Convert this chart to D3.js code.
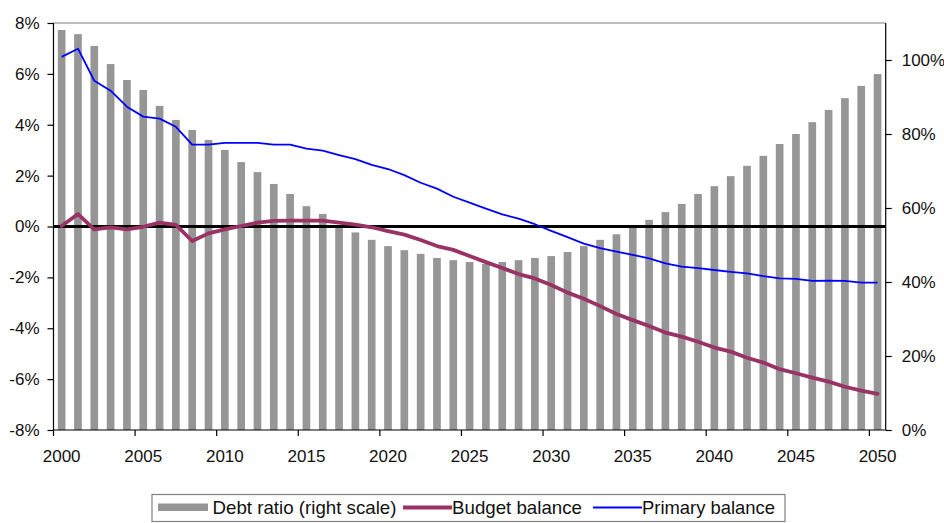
<!DOCTYPE html>
<html>
<head>
<meta charset="utf-8">
<script src="https://cdn.jsdelivr.net/npm/d3@7"></script>
<style>
  html, body { margin: 0; padding: 0; background: #fff; }
  svg { display: block; font-family: "Liberation Sans", Arial, sans-serif; }
</style>
</head>
<body>
<svg id="chart" width="944" height="523"></svg>
<script>
// Years 2000-2050
const years = d3.range(2000, 2051);

// Debt ratio, % of GDP (right scale)
const debtRatio = [
  108.1, 107.0, 103.8, 98.9, 94.6, 91.9, 87.6, 83.8, 81.1, 78.4,
  75.7, 72.4, 69.7, 66.5, 63.8, 60.5, 58.4, 54.8, 53.4, 51.4,
  49.7, 48.6, 47.6, 46.5, 45.9, 45.4, 44.9, 45.4, 45.9, 46.5,
  47.0, 48.1, 49.7, 51.4, 52.9, 54.7, 56.8, 58.9, 61.1, 63.8,
  65.9, 68.6, 71.4, 74.1, 77.3, 80.0, 83.2, 86.5, 89.7, 93.0,
  96.2
];

// Budget balance, % of GDP (left scale)
const budgetBalance = [
  0.02, 0.49, -0.11, -0.03, -0.11, -0.01, 0.15, 0.06, -0.57, -0.27,
  -0.11, 0.02, 0.15, 0.22, 0.23, 0.23, 0.23, 0.15, 0.07, -0.03,
  -0.18, -0.32, -0.53, -0.77, -0.92, -1.16, -1.40, -1.63, -1.87, -2.04,
  -2.30, -2.60, -2.84, -3.13, -3.44, -3.68, -3.91, -4.17, -4.33, -4.53,
  -4.76, -4.92, -5.16, -5.35, -5.61, -5.77, -5.94, -6.10, -6.30, -6.45,
  -6.58
];

// Primary balance, % of GDP (left scale)
const primaryBalance = [
  6.67, 6.99, 5.73, 5.34, 4.71, 4.32, 4.24, 3.92, 3.22, 3.22,
  3.29, 3.29, 3.29, 3.22, 3.22, 3.06, 2.98, 2.81, 2.65, 2.42,
  2.26, 2.02, 1.72, 1.49, 1.17, 0.94, 0.70, 0.48, 0.31, 0.09,
  -0.17, -0.42, -0.67, -0.85, -0.99, -1.12, -1.25, -1.45, -1.58, -1.64,
  -1.71, -1.78, -1.84, -1.95, -2.04, -2.06, -2.14, -2.13, -2.14, -2.21,
  -2.21
];

const leftTicks = [-8, -6, -4, -2, 0, 2, 4, 6, 8];
const rightTicks = [0, 20, 40, 60, 80, 100];
const yearTicks = years.filter(y => y % 5 === 0);

const legendItems = [
  { label: "Debt ratio (right scale)", kind: "bar" },
  { label: "Budget balance", kind: "budget" },
  { label: "Primary balance", kind: "primary" }
];

const colors = { bar: "#969696", budget: "#993366", primary: "#0000ff" };

const svg = d3.select("#chart");
const plot = { left: 53.5, right: 885.7, top: 23, bottom: 430 };

const x = d3.scaleBand().domain(years).range([plot.left, plot.right]).padding(0);
const yL = d3.scaleLinear().domain([-8, 8]).range([plot.bottom, plot.top]);
const yR = d3.scaleLinear().domain([0, 110]).range([plot.bottom, plot.top]);
const bw = x.bandwidth();
const barW = bw * 0.47;

// Debt ratio bars
svg.append("g")
  .selectAll("rect")
  .data(years)
  .join("rect")
  .attr("x", (d) => x(d) + (bw - barW) / 2)
  .attr("width", barW)
  .attr("y", (d, i) => yR(debtRatio[i]))
  .attr("height", (d, i) => yR(0) - yR(debtRatio[i]))
  .attr("fill", colors.bar);

// Frame: grey top border
svg.append("line")
  .attr("x1", plot.left).attr("x2", plot.right)
  .attr("y1", plot.top).attr("y2", plot.top)
  .attr("stroke", "#808080").attr("stroke-width", 1.2);

// Left axis
const axL = svg.append("g")
  .attr("transform", `translate(${plot.left},0)`)
  .call(d3.axisLeft(yL).tickValues(leftTicks).tickFormat(d => d + "%").tickSize(6).tickPadding(8));
// Right axis
const axR = svg.append("g")
  .attr("transform", `translate(${plot.right},0)`)
  .call(d3.axisRight(yR).tickValues(rightTicks).tickFormat(d => d + "%").tickSize(6).tickPadding(10));
// Bottom axis: ticks on band boundaries, labels under band centres
const axB = svg.append("g")
  .attr("transform", `translate(0,${plot.bottom})`)
  .call(d3.axisBottom(x).tickValues(yearTicks).tickSize(6).tickPadding(14));
axB.selectAll(".tick line").attr("x1", -bw / 2).attr("x2", -bw / 2);

[axL, axR, axB].forEach(ax => {
  ax.select(".domain").attr("stroke", "#000").attr("stroke-width", 1.2);
  ax.selectAll(".tick line").attr("stroke", "#000").attr("stroke-width", 1.2);
  ax.selectAll("text").attr("font-size", 17).attr("fill", "#111")
    .attr("font-family", "'Liberation Sans', Arial, sans-serif");
});
axL.select(".domain").attr("d", `M0,${plot.top}V${plot.bottom}`);
axR.select(".domain").attr("d", `M0,${plot.top}V${plot.bottom}`);
axB.select(".domain").attr("d", `M${plot.left},0H${plot.right}`);

// Zero line
svg.append("line")
  .attr("x1", plot.left).attr("x2", plot.right)
  .attr("y1", yL(0)).attr("y2", yL(0))
  .attr("stroke", "#000").attr("stroke-width", 3);

const cx = d => x(d) + bw / 2;

// Primary balance line
svg.append("path")
  .datum(years)
  .attr("fill", "none")
  .attr("stroke", colors.primary)
  .attr("stroke-width", 1.8)
  .attr("stroke-linejoin", "round")
  .attr("d", d3.line().x(cx).y((d, i) => yL(primaryBalance[i])));

// Budget balance line
svg.append("path")
  .datum(years)
  .attr("fill", "none")
  .attr("stroke", colors.budget)
  .attr("stroke-width", 3.8)
  .attr("stroke-linejoin", "round")
  .attr("stroke-linecap", "round")
  .attr("d", d3.line().x(cx).y((d, i) => yL(budgetBalance[i])));

// Legend
const legend = svg.append("g");
legend.append("rect")
  .attr("x", 152).attr("y", 494.5).attr("width", 633).attr("height", 27)
  .attr("fill", "#fff").attr("stroke", "#808080").attr("stroke-width", 1.2);

const legendLayout = [
  { sx: 158, sw: 50, tx: 212.5, tl: 184 },
  { sx: 403, sw: 49, tx: 452, tl: 130 },
  { sx: 593, sw: 49, tx: 642, tl: 133 }
];
legendItems.forEach((item, i) => {
  const L = legendLayout[i];
  if (item.kind === "bar") {
    legend.append("rect")
      .attr("x", L.sx).attr("y", 503.5).attr("width", L.sw).attr("height", 7.5)
      .attr("fill", colors.bar);
  } else {
    legend.append("line")
      .attr("x1", L.sx).attr("x2", L.sx + L.sw)
      .attr("y1", 507.5).attr("y2", 507.5)
      .attr("stroke", colors[item.kind])
      .attr("stroke-width", item.kind === "budget" ? 3.8 : 1.8);
  }
  legend.append("text")
    .attr("x", L.tx).attr("y", 513.5)
    .attr("font-size", 18.5)
    .attr("fill", "#111")
    .attr("textLength", L.tl)
    .attr("lengthAdjust", "spacingAndGlyphs")
    .text(item.label);
});
</script>
</body>
</html>
